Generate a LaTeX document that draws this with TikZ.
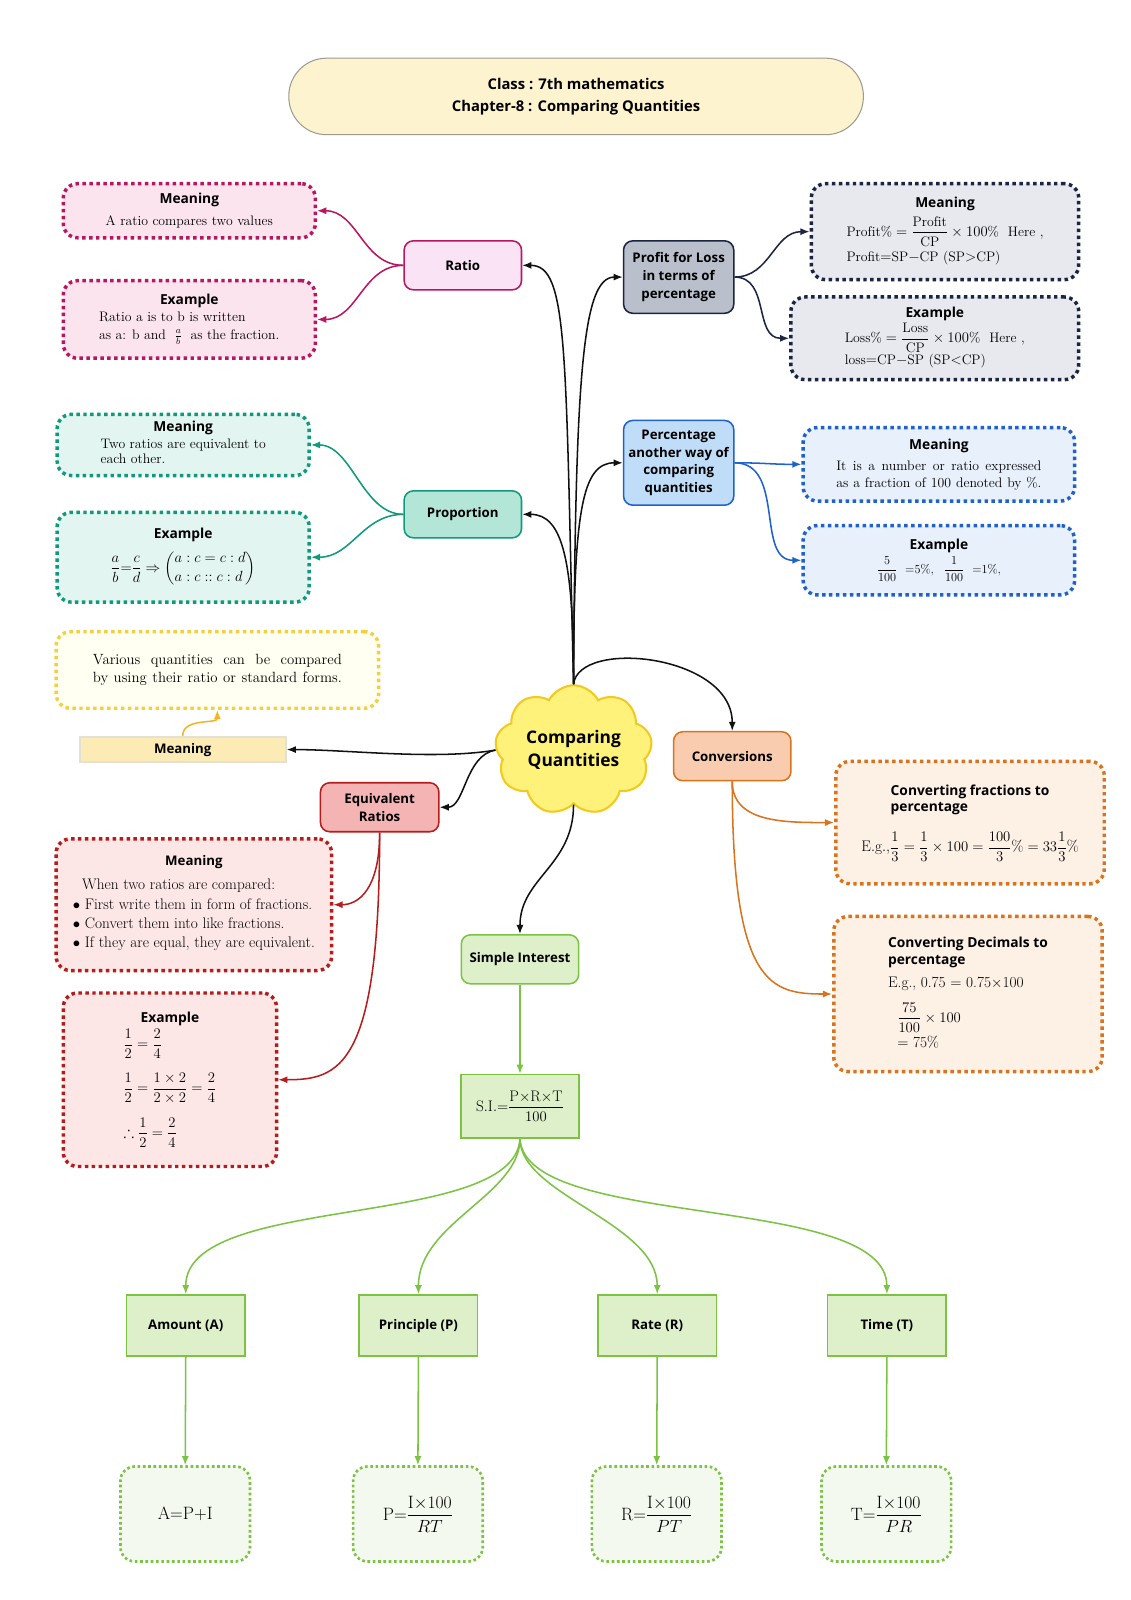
\documentclass[tikz,border=0pt]{standalone}
\usepackage{amsmath}
\usepackage{amssymb}
\usepackage{fontspec}
\newfontfamily\hfont{Open Sans}
\usetikzlibrary{positioning,arrows.meta,shapes.symbols}

\definecolor{titlefill}{HTML}{FDF3CF}
\definecolor{titleline}{HTML}{9A9A90}
\definecolor{cloudfill}{HTML}{FFF27A}
\definecolor{cloudline}{HTML}{F2C91C}
\definecolor{ratioline}{HTML}{B8165F}
\definecolor{ratiofill}{HTML}{F9E3F4}
\definecolor{ratiobox}{HTML}{FCE4EF}
\definecolor{propline}{HTML}{0F9A7C}
\definecolor{propfill}{HTML}{B4E6D7}
\definecolor{propbox}{HTML}{E3F5F0}
\definecolor{genline}{HTML}{F4D03F}
\definecolor{genbox}{HTML}{FFFFF2}
\definecolor{genarrow}{HTML}{F2B526}
\definecolor{labelfill}{HTML}{FCEBB5}
\definecolor{labelline}{HTML}{E4E1D2}
\definecolor{eqvline}{HTML}{B71C1C}
\definecolor{eqvfill}{HTML}{F4B4B4}
\definecolor{eqvbox}{HTML}{FCE6E6}
\definecolor{profline}{HTML}{1B2440}
\definecolor{proffill}{HTML}{B9C0CC}
\definecolor{profbox}{HTML}{E7E9EF}
\definecolor{percline}{HTML}{1F62CC}
\definecolor{percfill}{HTML}{BFDDF8}
\definecolor{percbox}{HTML}{E8F0FB}
\definecolor{convline}{HTML}{D9731E}
\definecolor{convfill}{HTML}{F9CCB0}
\definecolor{convbox}{HTML}{FDF0E5}
\definecolor{siline}{HTML}{7CC243}
\definecolor{sifill}{HTML}{DDF0CA}
\definecolor{sibox}{HTML}{F4F9EF}
\definecolor{mainline}{HTML}{111111}

\newcommand{\bodyfont}{\fontsize{13.5}{16.5}\selectfont}
\newcommand{\boxhead}[1]{{\hfont\bfseries #1}}

\begin{document}
\begin{tikzpicture}[x=1pt, y=-1pt,
    every node/.style={font=\bodyfont},
    topic/.style={draw, rounded corners=9pt, line width=1.5pt, align=center, inner sep=2pt,
      font=\hfont\bfseries\fontsize{13}{17.5}\selectfont},
    note/.style={rounded corners=14pt, line width=3.4pt, dash pattern=on 3.4pt off 3.4pt, align=center},
    fnote/.style={rounded corners=14pt, line width=2.6pt, dash pattern=on 2.6pt off 2.6pt,
      draw=siline, fill=sibox, minimum width=127pt, minimum height=93pt, font=\fontsize{17.5}{20}\selectfont},
    sqbox/.style={draw=siline, fill=sifill, line width=1.6pt, align=center,
      minimum width=116pt, minimum height=60pt, font=\hfont\bfseries\fontsize{13}{16}\selectfont},
    link/.style={line width=1.5pt, -{Latex[length=9pt,width=7pt]}},
  ]
  \useasboundingbox[fill=white] (0,0) rectangle (1108.2,1567.8);

  % title and centre
  \node[draw=titleline, fill=titlefill, line width=1pt, rounded corners=37pt, minimum width=563pt,
    minimum height=75pt, align=center, font=\hfont\bfseries\fontsize{14.5}{22}\selectfont]
    (title) at (564.5,94.5) {Class : 7th mathematics\\Chapter-8 : Comparing Quantities};
  \node[cloud, cloud puffs=9, cloud puff arc=125, aspect=1.35, draw=cloudline, fill=cloudfill,
    line width=2pt, minimum width=154pt, minimum height=118pt, align=center,
    font=\hfont\bfseries\fontsize{17}{22.5}\selectfont] (cloud) at (562,735) {Comparing\\Quantities};

  % ratio
  \node[topic, draw=ratioline, fill=ratiofill, minimum width=115pt, minimum height=48pt] (ratio) at (453.5,260) {Ratio};
  \node[note, draw=ratioline, fill=ratiobox, minimum width=247pt, minimum height=53pt] (ratio-mean) at (185.5,206.5)
    {\boxhead{Meaning}\\[5pt]A ratio compares two values};
  \node[note, draw=ratioline, fill=ratiobox, minimum width=247pt, minimum height=76pt] (ratio-ex) at (185.5,313)
    {\boxhead{Example}\\[1pt]\begin{tabular}{@{}l@{}}Ratio a is to b is written\\[1pt] as a: b and $\;\frac{a}{b}\;$ as the fraction.\end{tabular}};

  % proportion
  \node[topic, draw=propline, fill=propfill, minimum width=115pt, minimum height=46pt] (prop) at (453.5,504) {Proportion};
  \node[note, draw=propline, fill=propbox, minimum width=247pt, minimum height=60pt] (prop-mean) at (179.5,436)
    {\boxhead{Meaning}\\[1pt]\begin{tabular}{@{}l@{}}Two ratios are equivalent to\\[-2pt] each other.\end{tabular}};
  \node[note, draw=propline, fill=propbox, minimum width=247pt, minimum height=88pt] (prop-ex) at (179.5,546)
    {\boxhead{Example}\\[8pt]$\dfrac{a}{b}{=}\dfrac{c}{d}\Rightarrow\left(\begin{array}{@{}l@{}}a:c=c:d\\[2pt] a:c::c:d\end{array}\right)$};

  % general meaning
  \node[note, draw=genline, fill=genbox, minimum width=316pt, minimum height=75pt, font=\fontsize{14.5}{18}\selectfont]
    (gen-mean) at (213,656.5)
    {\makebox[244pt][s]{Various quantities can be compared}\\ \makebox[244pt][s]{by using their ratio or standard forms.}};
  \node[draw=labelline, fill=labelfill, line width=2pt, minimum width=202pt, minimum height=25pt, inner sep=1pt,
    font=\hfont\bfseries\fontsize{13}{15}\selectfont] (gen-label) at (179,734.5) {Meaning};

  % equivalent ratios
  \node[topic, draw=eqvline, fill=eqvfill, minimum width=116pt, minimum height=48pt] (eqv) at (372,791) {Equivalent\\Ratios};
  \node[note, draw=eqvline, fill=eqvbox, minimum width=270pt, minimum height=129pt, font=\fontsize{15}{19}\selectfont]
    (eqv-mean) at (190,886.5)
    {\boxhead{\fontsize{13}{15}\selectfont Meaning}\\[6pt]\begin{tabular}{@{}l@{}}\ \ When two ratios are compared:\\ $\bullet$ First write them in form of fractions.\\
      $\bullet$ Convert them into like fractions.\\ $\bullet$ If they are equal, they are equivalent.\end{tabular}};
  \node[note, draw=eqvline, fill=eqvbox, minimum width=209pt, minimum height=170pt] (eqv-ex) at (166.5,1058)
    {\boxhead{Example}\\[2pt]\fontsize{15.5}{18}\selectfont\begin{tabular}{@{}l@{}}$\dfrac{1}{2}=\dfrac{2}{4}$\\[19pt]
      $\dfrac{1}{2}=\dfrac{1\times2}{2\times2}=\dfrac{2}{4}$\\[19pt] $\therefore\dfrac{1}{2}=\dfrac{2}{4}$\end{tabular}};

  % profit and loss
  \node[topic, draw=profline, fill=proffill, minimum width=108pt, minimum height=71pt] (profit) at (665,271.5)
    {Profit for Loss\\in terms of\\percentage};
  \node[note, draw=profline, fill=profbox, minimum width=262pt, minimum height=94pt] (profit-mean) at (926,227)
    {\boxhead{Meaning}\\[5pt]\begin{tabular}{@{}l@{}}$\mathrm{Profit\%}=\dfrac{\mathrm{Profit}}{\mathrm{CP}}\times100\%$\ \ Here ,\\[8pt]
      Profit$=$SP$-$CP (SP$>$CP)\end{tabular}};
  \node[note, draw=profline, fill=profbox, minimum width=282pt, minimum height=81pt] (profit-ex) at (916,331.5)
    {\boxhead{Example}\\[2pt]\begin{tabular}{@{}l@{}}$\mathrm{Loss\%}=\dfrac{\mathrm{Loss}}{\mathrm{CP}}\times100\%$\ \ Here ,\\[5pt]
      loss$=$CP$-$SP (SP$<$CP)\end{tabular}};

  % percentage
  \node[topic, draw=percline, fill=percfill, minimum width=108pt, minimum height=83pt] (perc) at (665,453.5)
    {Percentage\\another way of\\comparing\\quantities};
  \node[note, draw=percline, fill=percbox, minimum width=266pt, minimum height=72pt] (perc-mean) at (920,455)
    {\boxhead{Meaning}\\[4pt]\makebox[201pt][s]{It is a number or ratio expressed}\\ \makebox[201pt][s]{as a fraction of 100 denoted by \%.}};
  \node[note, draw=percline, fill=percbox, minimum width=266pt, minimum height=68pt] (perc-ex) at (920,549)
    {\boxhead{Example}\\[3pt]{\fontsize{12}{14}\selectfont$\dfrac{5}{100}\ \ {=}5\%,\ \ \dfrac{1}{100}\ \ {=}1\%,$}};

  % conversions
  \node[topic, draw=convline, fill=convfill, minimum width=115pt, minimum height=48pt] (conv) at (717.5,741) {Conversions};
  \node[note, draw=convline, fill=convbox, minimum width=263pt, minimum height=120pt] (conv-frac) at (950.5,806)
    {\begin{tabular}{@{}l@{}}\boxhead{Converting fractions to}\\ \boxhead{percentage}\end{tabular}\\[14pt]
      \fontsize{15}{17}\selectfont$\mathrm{E.g.,}\dfrac{1}{3}=\dfrac{1}{3}\times100=\dfrac{100}{3}\%=33\dfrac{1}{3}\%$};
  \node[note, draw=convline, fill=convbox, minimum width=263pt, minimum height=152pt] (conv-dec) at (948.5,974)
    {\begin{tabular}{@{}l@{}}\boxhead{Converting Decimals to}\\ \boxhead{percentage}\\[6pt]
      {\fontsize{15}{17}\selectfont E.g., 0.75 $=$ 0.75$\times$100}\\[10pt]
      {\fontsize{15}{17}\selectfont\ \ $\dfrac{75}{100}\times100$}\\[8pt]
      {\fontsize{15}{17}\selectfont\ \ $=$ 75\%}\end{tabular}};

  % simple interest
  \node[topic, draw=siline, fill=sifill, minimum width=115pt, minimum height=48pt] (si) at (509.5,940) {Simple Interest};
  \node[sqbox, minimum height=62pt, font=\fontsize{15}{17}\selectfont] (si-formula) at (509.5,1084)
    {$\mathrm{S.I.}{=}\dfrac{\mathrm{P{\times}R{\times}T}}{100}$};
  \node[sqbox] (amount) at (182,1299) {Amount (A)};
  \node[sqbox] (principle) at (410,1299) {Principle (P)};
  \node[sqbox] (rate) at (644,1299) {Rate (R)};
  \node[sqbox] (time) at (869,1299) {Time (T)};
  \node[fnote] (amount-f) at (181.5,1483.5) {$\mathrm{A{=}P{+}I}$};
  \node[fnote] (principle-f) at (409.5,1483.5) {$\mathrm{P}{=}\dfrac{\mathrm{I}{\times}100}{RT}$};
  \node[fnote] (rate-f) at (643.5,1483.5) {$\mathrm{R}{=}\dfrac{\mathrm{I}{\times}100}{PT}$};
  \node[fnote] (time-f) at (868.5,1483.5) {$\mathrm{T}{=}\dfrac{\mathrm{I}{\times}100}{PR}$};

  % links from the centre
  \draw[link, mainline] (cloud.north) .. controls +(-8,-330) and +(45,0) .. (ratio.east);
  \draw[link, mainline] (cloud.north) .. controls +(2,-300) and +(-40,0) .. (profit.west);
  \draw[link, mainline] (cloud.north) .. controls +(0,-120) and +(40,0) .. (prop.east);
  \draw[link, mainline] (cloud.north) .. controls +(0,-170) and +(-40,0) .. (perc.west);
  \draw[link, mainline] (cloud.north) .. controls +(5,-45) and +(0,-75) .. (conv.north);
  \draw[link, mainline] (cloud.west) .. controls +(-60,10) and +(60,0) .. (gen-label.east);
  \draw[link, mainline] (cloud.west) .. controls +(-30,5) and +(25,0) .. (eqv.east);
  \draw[link, mainline] (cloud.south) .. controls +(0,60) and +(0,-55) .. (si.north);

  % branch links
  \foreach \target in {ratio-mean,ratio-ex}
    \draw[link, ratioline] (ratio.west) .. controls +(-40,0) and +(40,0) .. (\target.east);
  \foreach \target in {prop-mean,prop-ex}
    \draw[link, propline] (prop.west) .. controls +(-40,0) and +(40,0) .. (\target.east);
  \foreach \target in {profit-mean,profit-ex}
    \draw[link, profline] (profit.east) .. controls +(35,0) and +(-35,0) .. (\target.west);
  \draw[link, percline] (perc.east) .. controls +(30,0) and +(-30,0) .. (perc-mean.west);
  \draw[link, percline] (perc.east) .. controls +(50,0) and +(-45,0) .. (perc-ex.west);
  \draw[link, eqvline] (eqv.south) .. controls +(0,55) and +(25,0) .. (eqv-mean.east);
  \draw[link, eqvline] (eqv.south) .. controls +(0,230) and +(60,0) .. (eqv-ex.east);
  \draw[link, convline] (conv.south) .. controls +(0,40) and +(-50,0) .. (conv-frac.west);
  \draw[link, convline] (conv.south) .. controls +(0,200) and +(-60,0) .. (conv-dec.west);
  \draw[link, genarrow] (gen-label.north) .. controls +(0,-18) and +(0,14) .. (gen-mean.south);

  % simple interest links
  \draw[link, siline] (si.south) -- (si-formula.north);
  \draw[link, siline] (si-formula.south) .. controls +(-5,90) and +(0,-100) .. (amount.north);
  \draw[link, siline] (si-formula.south) .. controls +(0,55) and +(0,-70) .. (principle.north);
  \draw[link, siline] (si-formula.south) .. controls +(0,55) and +(0,-70) .. (rate.north);
  \draw[link, siline] (si-formula.south) .. controls +(5,90) and +(0,-100) .. (time.north);
  \foreach \leaf in {amount,principle,rate,time}
    \draw[link, siline] (\leaf.south) -- (\leaf-f.north);
\end{tikzpicture}
\end{document}
